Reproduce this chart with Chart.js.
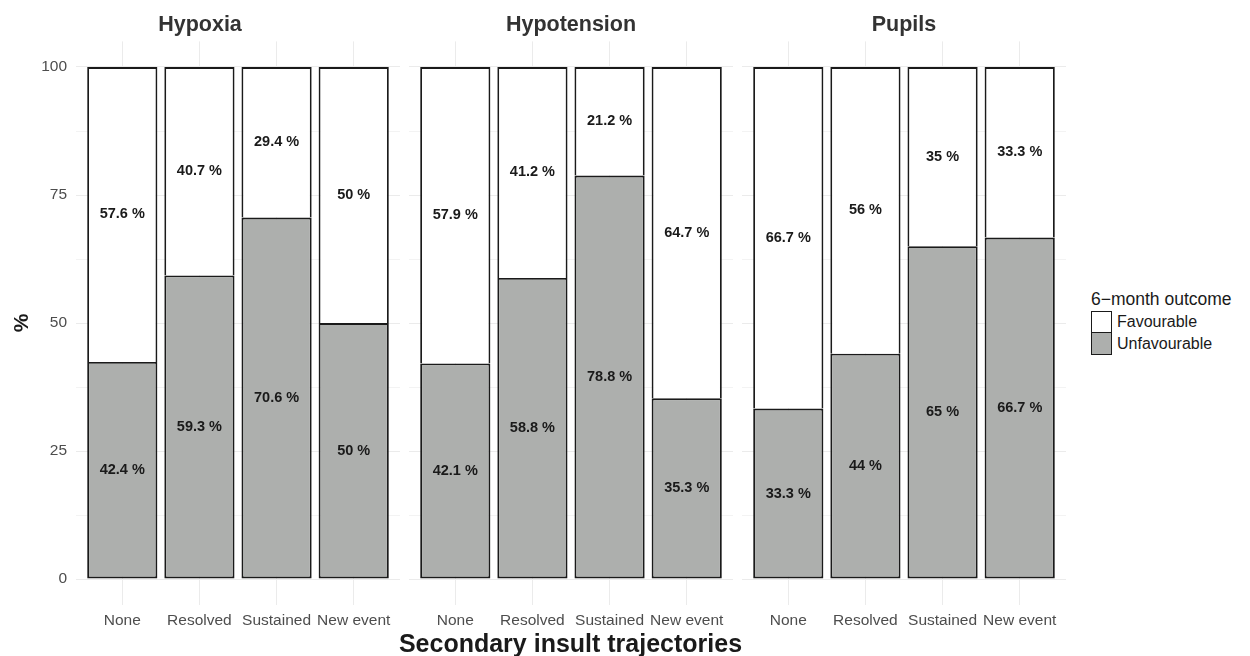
<!DOCTYPE html>
<html>
<head>
<meta charset="utf-8">
<script src="https://cdn.jsdelivr.net/npm/chart.js@4.4.1/dist/chart.umd.min.js"></script>
<style>
  body { margin: 0; background: #fff; }
  #wrap { position: relative; width: 1250px; height: 656px; font-family: "Liberation Sans", Arial, Helvetica, sans-serif; }
  canvas { position: absolute; top: 0; }
  #hypoxia { left: 0; }
  #hypotension { left: 409px; }
  #pupils { left: 742px; }
  #xtitle { position: absolute; left: 320px; width: 501px; top: 630.5px; text-align: center; font-size: 25px; line-height: 25px; font-weight: bold; color: #1a1a1a; }
  #legend { position: absolute; left: 1091px; top: 291px; color: #1a1a1a; }
  #legend .title { font-size: 17.5px; line-height: 17.5px; margin-bottom: 2px; }
  #legend .row { display: flex; align-items: center; height: 22px; }
  #legend .key { width: 21px; height: 22px; box-sizing: border-box; border: 1.6px solid #1a1a1a; }
  #legend .row + .row .key { border-top: none; }
  #legend .label { margin-left: 5px; font-size: 16px; line-height: 16px; }
</style>
</head>
<body>
<div id="wrap">
  <canvas id="hypoxia" width="400" height="656"></canvas>
  <canvas id="hypotension" width="324" height="656"></canvas>
  <canvas id="pupils" width="324" height="656"></canvas>
  <div id="xtitle">Secondary insult trajectories</div>
  <div id="legend"></div>
</div>
<script>
const categories = ["None", "Resolved", "Sustained", "New event"];

const hypoxiaUnfav = [42.4, 59.3, 70.6, 50];
const hypoxiaFav = [57.6, 40.7, 29.4, 50];
const hypotensionUnfav = [42.1, 58.8, 78.8, 35.3];
const hypotensionFav = [57.9, 41.2, 21.2, 64.7];
const pupilsUnfav = [33.3, 44, 65, 66.7];
const pupilsFav = [66.7, 56, 35, 33.3];

const yBreaks = [0, 25, 50, 75, 100];
const yMinorBreaks = [12.5, 37.5, 62.5, 87.5];

const unfavColour = "#adafad";
const favColour = "#ffffff";
const lineColour = "#1a1a1a";
const fontFamily = '"Liberation Sans", Arial, Helvetica, sans-serif';

Chart.defaults.font.family = fontFamily;

// ggplot-style x positions: categories at 1..4, 0.6 expansion each side
function toPoints(values) {
  return values.map((v, i) => ({ x: i + 1, y: v }));
}

// write "xx %" in the middle of every stacked segment
const segmentLabels = {
  id: "segmentLabels",
  afterDatasetsDraw(chart) {
    let ctx = chart.ctx;
    ctx.save();
    ctx.font = "bold 14.5px " + fontFamily;
    ctx.fillStyle = "#1a1a1a";
    ctx.textAlign = "center";
    ctx.textBaseline = "middle";
    chart.data.datasets.forEach((ds, i) => {
      let meta = chart.getDatasetMeta(i);
      meta.data.forEach((bar, j) => {
        ctx.fillText(`${ds.data[j].y} %`, bar.x, (bar.y + bar.base) / 2);
      });
    });
    ctx.restore();
  },
};

function makePanel(id, facet, unfav, fav, showY) {
  let ctx = document.getElementById(id);
  return new Chart(ctx, {
    type: "bar",
    data: {
      datasets: [
        {
          label: "Unfavourable",
          data: toPoints(unfav),
          backgroundColor: unfavColour,
          borderColor: lineColour,
          borderWidth: 1.9,
          borderSkipped: false,
          barPercentage: 0.91,
          categoryPercentage: 1,
        },
        {
          label: "Favourable",
          data: toPoints(fav),
          backgroundColor: favColour,
          borderColor: lineColour,
          borderWidth: 1.9,
          borderSkipped: "start",
          barPercentage: 0.91,
          categoryPercentage: 1,
        },
      ],
    },
    options: {
      responsive: false,
      animation: false,
      layout: { padding: 0 },
      plugins: {
        legend: { display: false },
        tooltip: { enabled: false },
        title: {
          display: true,
          text: facet,
          color: "#333333",
          font: { size: 21.5, weight: "bold" },
          padding: { top: 12.2, bottom: 3.4 },
        },
      },
      scales: {
        x: {
          type: "linear",
          stacked: true,
          min: 0.4,
          max: 4.6,
          offset: false,
          border: { display: false },
          grid: { color: "#ebebeb", lineWidth: 1, drawTicks: false, offset: false },
          afterBuildTicks: (scale) => {
            scale.ticks = categories.map((c, i) => ({ value: i + 1 }));
          },
          afterFit: (scale) => {
            scale.height = 51.4;
          },
          ticks: {
            autoSkip: false,
            maxRotation: 0,
            padding: 7,
            color: "#4d4d4d",
            font: { size: 15.5 },
            callback: (v) => categories[v - 1],
          },
        },
        y: {
          stacked: true,
          min: -5,
          max: 105,
          border: { display: false },
          grid: {
            drawTicks: false,
            color: (c) => (c.tick && yMinorBreaks.includes(c.tick.value) ? "#f3f3f3" : "#ebebeb"),
            lineWidth: 1,
          },
          afterBuildTicks: (scale) => {
            scale.ticks = yBreaks.concat(yMinorBreaks).sort((a, b) => a - b).map((v) => ({ value: v }));
          },
          afterFit: (scale) => {
            scale.width = showY ? 76 : 0;
          },
          ticks: {
            display: showY,
            padding: 9,
            color: "#4d4d4d",
            font: { size: 15.5 },
            callback: (v) => (yBreaks.includes(v) ? v : ""),
          },
          title: {
            display: showY,
            text: "%",
            color: "#1a1a1a",
            font: { size: 21, weight: "bold" },
            padding: { top: 9.4, bottom: 0 },
          },
        },
      },
    },
    plugins: [segmentLabels],
  });
}

makePanel("hypoxia", "Hypoxia", hypoxiaUnfav, hypoxiaFav, true);
makePanel("hypotension", "Hypotension", hypotensionUnfav, hypotensionFav, false);
makePanel("pupils", "Pupils", pupilsUnfav, pupilsFav, false);

function displayLegend() {
  let legend = document.getElementById("legend");
  let title = document.createElement("div");
  title.className = "title";
  title.textContent = "6\u2212month outcome";
  legend.appendChild(title);
  [
    ["Favourable", favColour],
    ["Unfavourable", unfavColour],
  ].forEach(function (item) {
    let row = document.createElement("div");
    row.className = "row";
    let key = document.createElement("div");
    key.className = "key";
    key.style.background = item[1];
    let label = document.createElement("span");
    label.className = "label";
    label.textContent = item[0];
    row.appendChild(key);
    row.appendChild(label);
    legend.appendChild(row);
  });
}

displayLegend();
</script>
</body>
</html>
